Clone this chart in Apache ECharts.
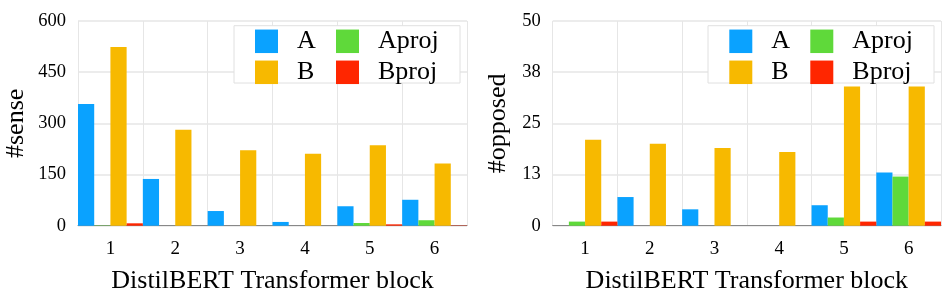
<!DOCTYPE html>
<html>
<head>
<meta charset="utf-8">
<script src="https://cdn.jsdelivr.net/npm/echarts@6/dist/echarts.min.js"></script>
<style>
html,body{margin:0;padding:0;background:#fff;}
#c{width:942px;height:296px;}
</style>
</head>
<body>
<div id="c"></div>
<script>
const categories = ['1','2','3','4','5','6'];
const seriesNames = ['A','Aproj','B','Bproj'];
const senseA = [357, 137, 43, 11, 57, 76];
const senseAproj = [1, 0, 0, 0, 8, 16];
const senseB = [524, 281, 221, 211, 236, 182];
const senseBproj = [7, 0, 0, 0, 4, 1];
const opposedA = [0, 7, 4, 0, 5, 13];
const opposedAproj = [1, 0, 0, 0, 2, 12];
const opposedB = [21, 20, 19, 18, 34, 34];
const opposedBproj = [1, 0, 0, 0, 1, 1];
const senseTicks = [0, 150, 300, 450, 600];
const opposedTicks = [0, 12.5, 25, 37.5, 50];

const colors = {A:'#0aa2ff', Aproj:'#5fd93a', B:'#f7b900', Bproj:'#ff2600'};
const serif = 'Liberation Serif';

const chart = echarts.init(document.getElementById('c'));

const grids = [
  {left:78, top:21, width:389, height:204.7, containLabel:false, outerBoundsMode:'none'},
  {left:552.7, top:21, width:388.3, height:204.7, containLabel:false, outerBoundsMode:'none'}
];

function xAxis(i){
  return {
    type:'category', gridIndex:i, data:categories,
    boundaryGap:true,
    axisLine:{show:true, lineStyle:{color:'#888', width:1}},
    axisTick:{show:false},
    axisLabel:{fontFamily:serif, fontSize:19, color:'#000', margin:14},
    splitLine:{show:true, lineStyle:{color:'#e6e6e6', width:1}},
    name:'DistilBERT Transformer block', nameLocation:'middle', nameGap:42,
    nameTextStyle:{fontFamily:serif, fontSize:26, color:'#000'}
  };
}
function yAxis(i, ticks, name, gap){
  return {
    type:'value', gridIndex:i, min:ticks[0], max:ticks[ticks.length-1],
    interval:ticks[1]-ticks[0],
    axisLine:{show:false}, axisTick:{show:false},
    axisLabel:{fontFamily:serif, fontSize:18.5, color:'#000', margin:12,
      formatter:v=>String(Math.round(v))},
    splitLine:{show:true, lineStyle:{color:'#e6e6e6', width:1.5}},
    name:name, nameLocation:'middle', nameGap:gap, nameRotate:90,
    nameTextStyle:{fontFamily:serif, fontSize:26, color:'#000'}
  };
}

const senseData = {A:senseA, Aproj:senseAproj, B:senseB, Bproj:senseBproj};
const opposedData = {A:opposedA, Aproj:opposedAproj, B:opposedB, Bproj:opposedBproj};

const series = [];
[senseData, opposedData].forEach((d, gi)=>{
  seriesNames.forEach(n=>{
    series.push({
      type:'bar', name:n, xAxisIndex:gi, yAxisIndex:gi, data:d[n],
      barGap:'0%', barCategoryGap:'0%',
      itemStyle:{color:colors[n]}
    });
  });
});

function legend(left, top, names){
  return {
    left:left, top:top, orient:'vertical', padding:0,
    itemWidth:23, itemHeight:23.5, itemGap:5, icon:'rect',
    data:names, selectedMode:false,
    textStyle:{fontFamily:serif, fontSize:26, color:'#000', padding:[0,0,0,14], lineHeight:23.5}
  };
}

const boxes = [[234, 25.7], [708, 25.7]];

chart.setOption({
  animation:false,
  grid:grids,
  xAxis:[xAxis(0), xAxis(1)],
  yAxis:[yAxis(0, senseTicks, '#sense', 49), yAxis(1, opposedTicks, '#opposed', 42)],
  series:series,
  legend:[
    legend(255, 28.3, ['A','B']),
    legend(336, 28.3, ['Aproj','Bproj']),
    legend(729.3, 28.3, ['A','B']),
    legend(810.3, 28.3, ['Aproj','Bproj'])
  ],
  graphic:boxes.map(b=>({
    type:'rect', z:3, silent:true,
    shape:{x:b[0], y:b[1], width:226, height:57.3},
    style:{fill:'#fff', stroke:'#e0e0e0', lineWidth:1}
  }))
});
</script>
</body>
</html>
